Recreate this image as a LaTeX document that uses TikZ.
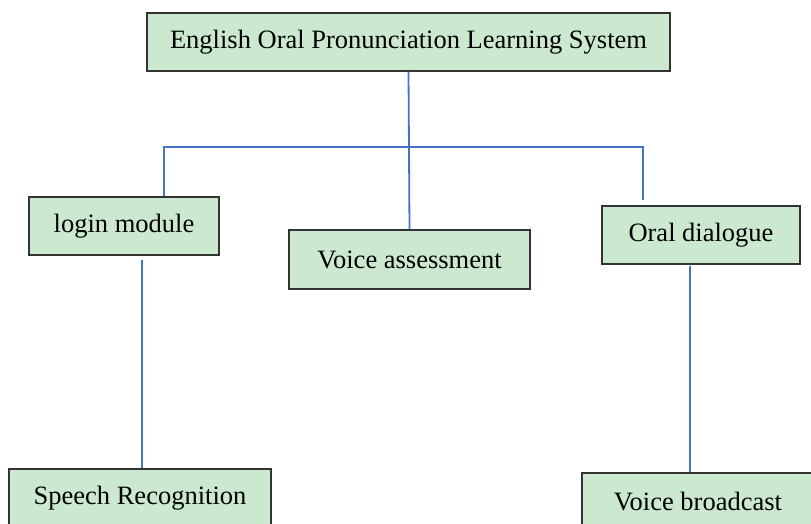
\documentclass[tikz,border=0pt]{standalone}
\usepackage{fontspec}
\setmainfont{Liberation Serif}
\usetikzlibrary{positioning}

\definecolor{boxgreen}{HTML}{CCE8CF}
\definecolor{linkblue}{HTML}{4472C4}
\tikzset{
  modbox/.style = {draw = black!80 , line width = 1.2pt , fill = boxgreen ,
                   minimum height = 58pt , inner sep = 0pt ,
                   font = \fontsize{26.5}{30}\selectfont},
  link/.style = {draw = linkblue , line width = 1.8pt}
}

\begin{document}
\begin{tikzpicture}[x = 1pt , y = -1pt]
    \clip (0,0) rectangle (811,524);
    % Boxes
    \node[modbox , minimum width = 523pt] (sys) at (408.5,42) {English Oral Pronunciation Learning System};
    \node[modbox , minimum width = 190pt] (login) at (124,226) {login module};
    \node[modbox , minimum width = 241pt , minimum height = 59pt] (assess) at (409.5,259.5) {Voice assessment};
    \node[modbox , minimum width = 198pt] (oral) at (701,235) {Oral dialogue};
    \node[modbox , minimum width = 262pt] (speech) at (140,498) {Speech Recognition};
    \node[modbox , minimum width = 232pt] (broad) at (698,502) {Voice broadcast};
    % Tree lines
    \coordinate (barL) at (164,147);
    \coordinate (barR) at (643,147);
    \draw[link] (sys.south) -- (assess.north);
    \draw[link] (barL |- login.north) -- (barL) -- (barR) -- ([yshift = 5pt]barR |- oral.north);
    \draw[link] ([xshift = 2pt , yshift = -4pt]speech.north |- login.south) -- ([xshift = 2pt]speech.north);
    \draw[link] ([xshift = -11pt , yshift = -1pt]oral.south) -- ([xshift = -11pt]oral.south |- broad.north);
\end{tikzpicture}
\end{document}
